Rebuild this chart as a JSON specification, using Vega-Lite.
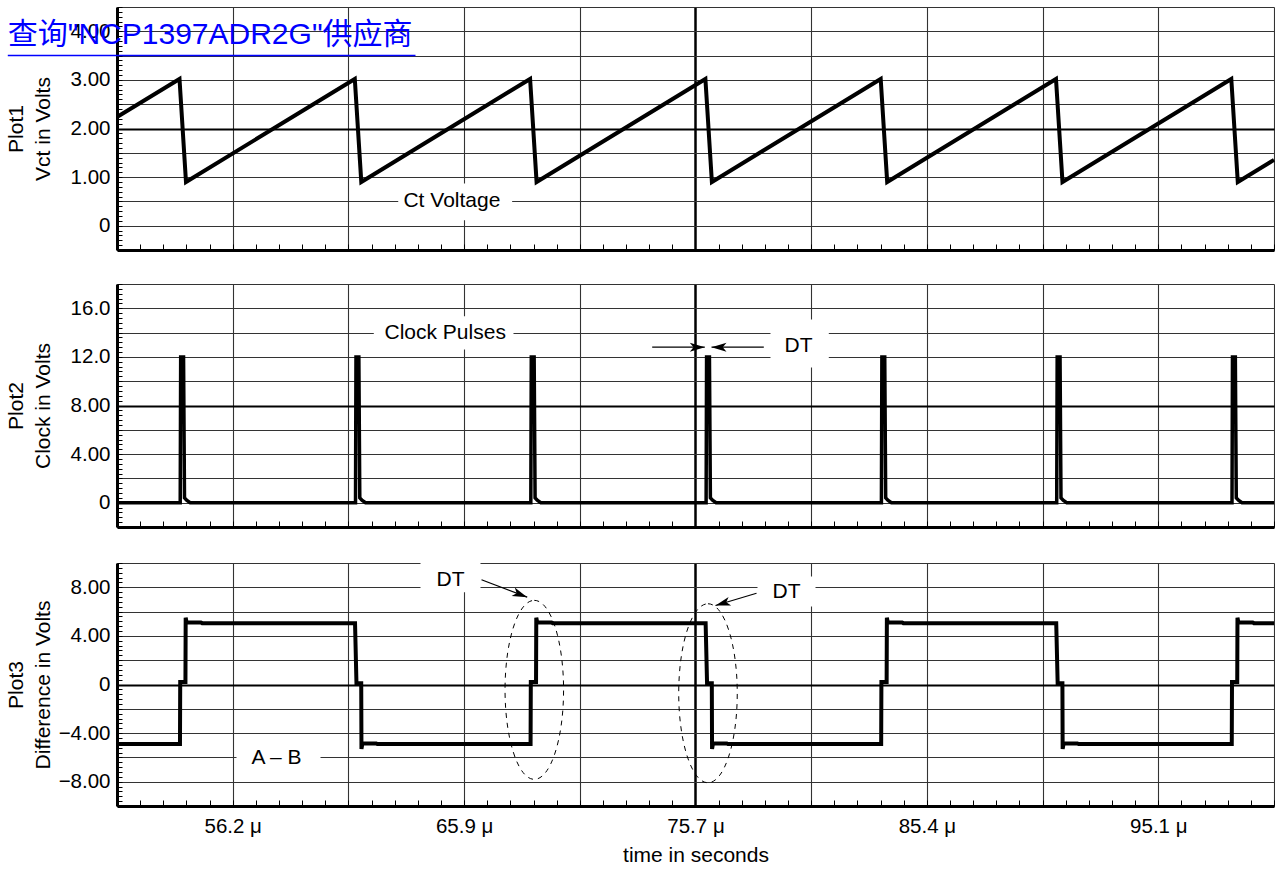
{
  "$schema": "https://vega.github.io/schema/vega-lite/v6.json",
  "background": "white",
  "padding": {"left": 4, "top": 6, "right": 0, "bottom": 0},
  "spacing": 32,
  "config": {
    "view": {"stroke": null},
    "font": "Liberation Sans",
    "axis": {"labelFont": "Liberation Sans", "titleFont": "Liberation Sans", "labelFontSize": 20.5, "titleFontSize": 21, "labelColor": "black", "titleColor": "black", "titleFontWeight": "normal", "labelOverlap": false, "labelFlush": false}
  },
  "datasets": {
    "ct": [{"t":51.335,"v":2.235},{"t":53.963,"v":3.02},{"t":54.236,"v":0.9},{"t":61.334,"v":3.02},{"t":61.607,"v":0.9},{"t":68.705,"v":3.02},{"t":68.978,"v":0.9},{"t":76.076,"v":3.02},{"t":76.349,"v":0.9},{"t":83.447,"v":3.02},{"t":83.72,"v":0.9},{"t":90.818,"v":3.02},{"t":91.091,"v":0.9},{"t":98.189,"v":3.02},{"t":98.462,"v":0.9},{"t":99.985,"v":1.355}],
    "clk": [{"t":51.335,"v":0},
      {"t":53.993,"v":0},{"t":54.013,"v":12},{"t":54.133,"v":12},{"t":54.173,"v":0.4},{"t":54.263,"v":0.2},{"t":54.413,"v":0},
      {"t":61.364,"v":0},{"t":61.384,"v":12},{"t":61.504,"v":12},{"t":61.544,"v":0.4},{"t":61.634,"v":0.2},{"t":61.784,"v":0},
      {"t":68.735,"v":0},{"t":68.755,"v":12},{"t":68.875,"v":12},{"t":68.915,"v":0.4},{"t":69.005,"v":0.2},{"t":69.155,"v":0},
      {"t":76.106,"v":0},{"t":76.126,"v":12},{"t":76.246,"v":12},{"t":76.286,"v":0.4},{"t":76.376,"v":0.2},{"t":76.526,"v":0},
      {"t":83.477,"v":0},{"t":83.497,"v":12},{"t":83.617,"v":12},{"t":83.657,"v":0.4},{"t":83.747,"v":0.2},{"t":83.897,"v":0},
      {"t":90.848,"v":0},{"t":90.868,"v":12},{"t":90.988,"v":12},{"t":91.028,"v":0.4},{"t":91.118,"v":0.2},{"t":91.268,"v":0},
      {"t":98.219,"v":0},{"t":98.239,"v":12},{"t":98.359,"v":12},{"t":98.399,"v":0.4},{"t":98.489,"v":0.2},{"t":98.639,"v":0},
      {"t":99.985,"v":0}],
    "diff": [{"t":51.335,"v":-4.9},
      {"t":53.983,"v":-4.9},{"t":53.993,"v":0.2},{"t":54.213,"v":0.2},{"t":54.223,"v":5.5},{"t":54.263,"v":5.1},{"t":54.863,"v":5.1},{"t":54.913,"v":5.05},
      {"t":61.344,"v":5.05},{"t":61.404,"v":0.1},{"t":61.604,"v":0.1},{"t":61.614,"v":-5.3},{"t":61.654,"v":-4.85},{"t":62.234,"v":-4.85},{"t":62.284,"v":-4.9},
      {"t":68.725,"v":-4.9},{"t":68.735,"v":0.2},{"t":68.955,"v":0.2},{"t":68.965,"v":5.5},{"t":69.005,"v":5.1},{"t":69.605,"v":5.1},{"t":69.655,"v":5.05},
      {"t":76.086,"v":5.05},{"t":76.146,"v":0.1},{"t":76.346,"v":0.1},{"t":76.356,"v":-5.3},{"t":76.396,"v":-4.85},{"t":76.976,"v":-4.85},{"t":77.026,"v":-4.9},
      {"t":83.467,"v":-4.9},{"t":83.477,"v":0.2},{"t":83.697,"v":0.2},{"t":83.707,"v":5.5},{"t":83.747,"v":5.1},{"t":84.347,"v":5.1},{"t":84.397,"v":5.05},
      {"t":90.828,"v":5.05},{"t":90.888,"v":0.1},{"t":91.088,"v":0.1},{"t":91.098,"v":-5.3},{"t":91.138,"v":-4.85},{"t":91.718,"v":-4.85},{"t":91.768,"v":-4.9},
      {"t":98.209,"v":-4.9},{"t":98.219,"v":0.2},{"t":98.439,"v":0.2},{"t":98.449,"v":5.5},{"t":98.489,"v":5.1},{"t":99.089,"v":5.1},{"t":99.139,"v":5.05},
      {"t":99.985,"v":5.05}],
    "notes": [
      {"panel":1,"text":"Ct Voltage","t":65.417,"v":0.5,"t1":63.16,"t2":67.95,"v1":0.11,"v2":0.87},
      {"panel":2,"text":"Clock Pulses","t":65.135,"v":13.95,"t1":62.133,"t2":68.007,"v1":12.61,"v2":15.35},
      {"panel":2,"text":"DT","t":79.99,"v":12.88,"t1":78.813,"t2":81.265,"v1":11.13,"v2":15.08},
      {"panel":3,"text":"DT","t":65.358,"v":8.62,"t1":64.097,"t2":66.619,"v1":7.6,"v2":10.2},
      {"panel":3,"text":"DT","t":79.486,"v":7.65,"t1":78.267,"t2":80.706,"v1":6.42,"v2":8.89},
      {"panel":3,"text":"A – B","t":58.042,"v":-6.09,"t1":56.36,"t2":59.892,"v1":-7.2,"v2":-5.3}],
    "arrows": [
      {"id":"a","tail_t":73.839,"tail_v":12.8,"tip_t":76.051,"tip_v":12.8},
      {"id":"b","tail_t":78.532,"tail_v":12.8,"tip_t":76.333,"tip_v":12.8},
      {"id":"c","tail_t":66.662,"tail_v":8.62,"tip_t":68.583,"tip_v":7.19},
      {"id":"d","tail_t":78.225,"tail_v":7.51,"tip_t":76.501,"tip_v":6.5}],
    "ellipses": [{"t":68.882,"v":-0.44},{"t":76.185,"v":-0.72}],
    "link": [{"text":"查询\"NCP1397ADR2G\"供应商","t":46.743,"v":3.743,"t2":63.886,"uv":3.502}]
  },
  "vconcat": [
    {
      "width": 1157, "height": 243,
      "resolve": {"axis": {"x": "independent", "y": "independent"}},
      "layer": [
        {"data": {"name": "notes"}, "transform": [{"filter": "datum.panel == 1"}],
         "mark": {"type": "rect", "color": "white"},
         "encoding": {
           "x": {"field": "t1", "type": "quantitative", "scale": {"domain": [51.335, 99.985], "nice": false, "zero": false},
                 "axis": {"orient": "bottom", "values": [51.335,52.308,53.281,54.254,55.227,56.2,57.173,58.146,59.119,60.092,61.065,62.038,63.011,63.984,64.957,65.93,66.903,67.876,68.849,69.822,70.795,71.768,72.741,73.714,74.687,75.66,76.633,77.606,78.579,79.552,80.525,81.498,82.471,83.444,84.417,85.39,86.363,87.336,88.309,89.282,90.255,91.228,92.201,93.174,94.147,95.12,96.093,97.066,98.039,99.012,99.985], "grid": false, "labels": false, "domain": false, "ticks": true, "tickSize": -6, "tickColor": "black", "tickWidth": 1, "title": null}},
           "x2": {"field": "t2"},
           "y": {"field": "v1", "type": "quantitative", "scale": {"domain": [-0.5, 4.5], "nice": false, "zero": false},
                 "axis": {"orient": "left", "values": [-0.5,-0.4,-0.3,-0.2,-0.1,0,0.1,0.2,0.3,0.4,0.5,0.6,0.7,0.8,0.9,1,1.1,1.2,1.3,1.4,1.5,1.6,1.7,1.8,1.9,2,2.1,2.2,2.3,2.4,2.5,2.6,2.7,2.8,2.9,3,3.1,3.2,3.3,3.4,3.5,3.6,3.7,3.8,3.9,4,4.1,4.2,4.3,4.4,4.5], "grid": false, "labels": false, "domain": false, "ticks": true, "tickSize": -5, "tickColor": "black", "tickWidth": 1, "title": null}},
           "y2": {"field": "v2"}
         }},
        {"data": {"name": "ct"},
         "mark": {"type": "line", "color": "black", "strokeWidth": 4},
         "encoding": {
           "x": {"field": "t", "type": "quantitative", "scale": {"domain": [51.335, 99.985], "nice": false, "zero": false},
                 "axis": {"orient": "bottom", "values": [56.2], "grid": false, "ticks": false, "labels": false, "domain": true, "domainColor": "black", "domainWidth": 3, "title": null}},
           "y": {"field": "v", "type": "quantitative", "scale": {"domain": [-0.5, 4.5], "nice": false, "zero": false},
                 "axis": {"orient": "left", "values": [0,1,2,3,4], "grid": false,
                          "ticks": false, "domain": true, "domainColor": "black", "domainWidth": 3, "labelPadding": 7,
                          "labelExpr": "datum.value == 0 ? '0' : format(datum.value, '.2f')",
                          "title": ["Plot1", "Vct in Volts"], "titleX": -91, "titleBaseline": "bottom", "titleLineHeight": 27}}
         }},
        {"data": {"name": "notes"}, "transform": [{"filter": "datum.panel == 1"}],
         "mark": {"type": "text", "font": "Liberation Sans", "fontSize": 21, "color": "black", "align": "center", "baseline": "middle"},
         "encoding": {
           "x": {"field": "t", "type": "quantitative", "scale": {"domain": [51.335, 99.985], "nice": false, "zero": false},
                 "axis": {"orient": "bottom", "values": [51.335,56.2,61.065,65.93,70.795,75.66,80.525,85.39,90.255,95.12,99.985], "grid": true,
                          "gridColor": {"condition": {"test": "datum.value > 75 && datum.value < 76", "value": "black"}, "value": "#333333"},
                          "gridWidth": {"condition": {"test": "datum.value > 75 && datum.value < 76", "value": 2.5}, "value": 1.1},
                          "ticks": false, "labels": false, "domain": false, "title": null}},
           "y": {"field": "v", "type": "quantitative", "scale": {"domain": [-0.5, 4.5], "nice": false, "zero": false},
                 "axis": {"orient": "left", "values": [-0.5,0,0.5,1,1.5,2,2.5,3,3.5,4,4.5], "grid": true,
                          "gridColor": {"condition": {"test": "datum.value == 2", "value": "black"}, "value": "#333333"},
                          "gridWidth": {"condition": {"test": "datum.value == 2", "value": 2.2}, "value": 1.1},
                          "ticks": false, "labels": false, "domain": false, "title": null}},
           "text": {"field": "text"}
         }},
        {"data": {"name": "link"},
         "mark": {"type": "rule", "color": "#0000ff", "strokeWidth": 1.5},
         "encoding": {
           "x": {"field": "t", "type": "quantitative", "scale": {"domain": [51.335, 99.985], "nice": false, "zero": false}, "axis": null},
           "x2": {"field": "t2"},
           "y": {"field": "uv", "type": "quantitative", "scale": {"domain": [-0.5, 4.5], "nice": false, "zero": false}, "axis": null}
         }},
        {"data": {"name": "link"},
         "mark": {"type": "text", "font": "Liberation Sans, Noto Sans CJK SC", "fontSize": 30, "color": "#0000ff", "align": "left", "baseline": "alphabetic"},
         "encoding": {
           "x": {"field": "t", "type": "quantitative", "scale": {"domain": [51.335, 99.985], "nice": false, "zero": false}, "axis": null},
           "y": {"field": "v", "type": "quantitative", "scale": {"domain": [-0.5, 4.5], "nice": false, "zero": false}, "axis": null},
           "text": {"field": "text"}
         }}
      ]
    },
    {
      "width": 1157, "height": 243,
      "resolve": {"axis": {"x": "independent", "y": "independent"}},
      "layer": [
        {"data": {"name": "notes"}, "transform": [{"filter": "datum.panel == 2"}],
         "mark": {"type": "rect", "color": "white"},
         "encoding": {
           "x": {"field": "t1", "type": "quantitative", "scale": {"domain": [51.335, 99.985], "nice": false, "zero": false},
                 "axis": {"orient": "bottom", "values": [51.335,52.308,53.281,54.254,55.227,56.2,57.173,58.146,59.119,60.092,61.065,62.038,63.011,63.984,64.957,65.93,66.903,67.876,68.849,69.822,70.795,71.768,72.741,73.714,74.687,75.66,76.633,77.606,78.579,79.552,80.525,81.498,82.471,83.444,84.417,85.39,86.363,87.336,88.309,89.282,90.255,91.228,92.201,93.174,94.147,95.12,96.093,97.066,98.039,99.012,99.985], "grid": false, "labels": false, "domain": false, "ticks": true, "tickSize": -6, "tickColor": "black", "tickWidth": 1, "title": null}},
           "x2": {"field": "t2"},
           "y": {"field": "v1", "type": "quantitative", "scale": {"domain": [-2, 18], "nice": false, "zero": false},
                 "axis": {"orient": "left", "values": [-2,-1.6,-1.2,-0.8,-0.4,0,0.4,0.8,1.2,1.6,2,2.4,2.8,3.2,3.6,4,4.4,4.8,5.2,5.6,6,6.4,6.8,7.2,7.6,8,8.4,8.8,9.2,9.6,10,10.4,10.8,11.2,11.6,12,12.4,12.8,13.2,13.6,14,14.4,14.8,15.2,15.6,16,16.4,16.8,17.2,17.6,18], "grid": false, "labels": false, "domain": false, "ticks": true, "tickSize": -5, "tickColor": "black", "tickWidth": 1, "title": null}},
           "y2": {"field": "v2"}
         }},
        {"data": {"name": "clk"},
         "mark": {"type": "line", "color": "black", "strokeWidth": 3.5},
         "encoding": {
           "x": {"field": "t", "type": "quantitative", "scale": {"domain": [51.335, 99.985], "nice": false, "zero": false},
                 "axis": {"orient": "bottom", "values": [56.2], "grid": false, "ticks": false, "labels": false, "domain": true, "domainColor": "black", "domainWidth": 3, "title": null}},
           "y": {"field": "v", "type": "quantitative", "scale": {"domain": [-2, 18], "nice": false, "zero": false},
                 "axis": {"orient": "left", "values": [0,4,8,12,16], "grid": false,
                          "ticks": false, "domain": true, "domainColor": "black", "domainWidth": 3, "labelPadding": 7,
                          "labelExpr": "datum.value == 0 ? '0' : (datum.value >= 10 ? format(datum.value, '.1f') : format(datum.value, '.2f'))",
                          "title": ["Plot2", "Clock in Volts"], "titleX": -91, "titleBaseline": "bottom", "titleLineHeight": 27}}
         }},
        {"data": {"name": "arrows"}, "transform": [{"filter": "datum.id == 'a' || datum.id == 'b'"}],
         "mark": {"type": "rule", "color": "black", "strokeWidth": 1.2},
         "encoding": {
           "x": {"field": "tail_t", "type": "quantitative", "scale": {"domain": [51.335, 99.985], "nice": false, "zero": false}, "axis": null},
           "x2": {"field": "tip_t"},
           "y": {"field": "tail_v", "type": "quantitative", "scale": {"domain": [-2, 18], "nice": false, "zero": false}, "axis": null},
           "y2": {"field": "tip_v"}
         }},
        {"data": {"name": "arrows"}, "transform": [{"filter": "datum.id == 'a'"}],
         "mark": {"type": "point", "shape": "M 0 0 L -1 -0.3 L -0.75 0 L -1 0.3 Z", "filled": true, "color": "black", "opacity": 1, "size": 900, "angle": 0},
         "encoding": {
           "x": {"field": "tip_t", "type": "quantitative", "scale": {"domain": [51.335, 99.985], "nice": false, "zero": false}, "axis": null},
           "y": {"field": "tip_v", "type": "quantitative", "scale": {"domain": [-2, 18], "nice": false, "zero": false}, "axis": null}
         }},
        {"data": {"name": "arrows"}, "transform": [{"filter": "datum.id == 'b'"}],
         "mark": {"type": "point", "shape": "M 0 0 L -1 -0.3 L -0.75 0 L -1 0.3 Z", "filled": true, "color": "black", "opacity": 1, "size": 900, "angle": 180},
         "encoding": {
           "x": {"field": "tip_t", "type": "quantitative", "scale": {"domain": [51.335, 99.985], "nice": false, "zero": false}, "axis": null},
           "y": {"field": "tip_v", "type": "quantitative", "scale": {"domain": [-2, 18], "nice": false, "zero": false}, "axis": null}
         }},
        {"data": {"name": "notes"}, "transform": [{"filter": "datum.panel == 2"}],
         "mark": {"type": "text", "font": "Liberation Sans", "fontSize": 21, "color": "black", "align": "center", "baseline": "middle"},
         "encoding": {
           "x": {"field": "t", "type": "quantitative", "scale": {"domain": [51.335, 99.985], "nice": false, "zero": false},
                 "axis": {"orient": "bottom", "values": [51.335,56.2,61.065,65.93,70.795,75.66,80.525,85.39,90.255,95.12,99.985], "grid": true,
                          "gridColor": {"condition": {"test": "datum.value > 75 && datum.value < 76", "value": "black"}, "value": "#333333"},
                          "gridWidth": {"condition": {"test": "datum.value > 75 && datum.value < 76", "value": 2.5}, "value": 1.1},
                          "ticks": false, "labels": false, "domain": false, "title": null}},
           "y": {"field": "v", "type": "quantitative", "scale": {"domain": [-2, 18], "nice": false, "zero": false},
                 "axis": {"orient": "left", "values": [-2,0,2,4,6,8,10,12,14,16,18], "grid": true,
                          "gridColor": {"condition": {"test": "datum.value == 8", "value": "black"}, "value": "#333333"},
                          "gridWidth": {"condition": {"test": "datum.value == 8", "value": 2.2}, "value": 1.1},
                          "ticks": false, "labels": false, "domain": false, "title": null}},
           "text": {"field": "text"}
         }}
      ]
    },
    {
      "width": 1157, "height": 243,
      "resolve": {"axis": {"x": "independent", "y": "independent"}},
      "layer": [
        {"data": {"name": "notes"}, "transform": [{"filter": "datum.panel == 3"}],
         "mark": {"type": "rect", "color": "white"},
         "encoding": {
           "x": {"field": "t1", "type": "quantitative", "scale": {"domain": [51.335, 99.985], "nice": false, "zero": false},
                 "axis": {"orient": "bottom", "values": [51.335,52.308,53.281,54.254,55.227,56.2,57.173,58.146,59.119,60.092,61.065,62.038,63.011,63.984,64.957,65.93,66.903,67.876,68.849,69.822,70.795,71.768,72.741,73.714,74.687,75.66,76.633,77.606,78.579,79.552,80.525,81.498,82.471,83.444,84.417,85.39,86.363,87.336,88.309,89.282,90.255,91.228,92.201,93.174,94.147,95.12,96.093,97.066,98.039,99.012,99.985], "grid": false, "labels": false, "domain": false, "ticks": true, "tickSize": -6, "tickColor": "black", "tickWidth": 1, "title": null}},
           "x2": {"field": "t2"},
           "y": {"field": "v1", "type": "quantitative", "scale": {"domain": [-10, 10], "nice": false, "zero": false},
                 "axis": {"orient": "left", "values": [-10,-9.6,-9.2,-8.8,-8.4,-8,-7.6,-7.2,-6.8,-6.4,-6,-5.6,-5.2,-4.8,-4.4,-4,-3.6,-3.2,-2.8,-2.4,-2,-1.6,-1.2,-0.8,-0.4,0,0.4,0.8,1.2,1.6,2,2.4,2.8,3.2,3.6,4,4.4,4.8,5.2,5.6,6,6.4,6.8,7.2,7.6,8,8.4,8.8,9.2,9.6,10], "grid": false, "labels": false, "domain": false, "ticks": true, "tickSize": -5, "tickColor": "black", "tickWidth": 1, "title": null}},
           "y2": {"field": "v2"}
         }},
        {"data": {"name": "diff"},
         "mark": {"type": "line", "color": "black", "strokeWidth": 4},
         "encoding": {
           "x": {"field": "t", "type": "quantitative", "scale": {"domain": [51.335, 99.985], "nice": false, "zero": false},
                 "axis": {"orient": "bottom", "values": [56.2,65.93,75.66,85.39,95.12], "grid": false,
                          "ticks": false, "labels": true, "domain": true, "domainColor": "black", "domainWidth": 3,
                          "labelPadding": 10,
                          "labelExpr": "format(datum.value, '.1f') + ' μ'",
                          "title": "time in seconds", "titlePadding": 8}},
           "y": {"field": "v", "type": "quantitative", "scale": {"domain": [-10, 10], "nice": false, "zero": false},
                 "axis": {"orient": "left", "values": [-8,-4,0,4,8], "grid": false,
                          "ticks": false, "domain": true, "domainColor": "black", "domainWidth": 3, "labelPadding": 7,
                          "labelExpr": "datum.value == 0 ? '0' : format(datum.value, '.2f')",
                          "title": ["Plot3", "Difference in Volts"], "titleX": -91, "titleBaseline": "bottom", "titleLineHeight": 27}}
         }},
        {"data": {"name": "ellipses"},
         "mark": {"type": "point", "shape": "M 0 -1 A 0.327 1 0 0 1 0.327 0 A 0.327 1 0 0 1 0 1 A 0.327 1 0 0 1 -0.327 0 A 0.327 1 0 0 1 0 -1 Z", "filled": false, "stroke": "black", "strokeWidth": 1, "strokeDash": [5, 5], "opacity": 1, "size": 32041},
         "encoding": {
           "x": {"field": "t", "type": "quantitative", "scale": {"domain": [51.335, 99.985], "nice": false, "zero": false}, "axis": null},
           "y": {"field": "v", "type": "quantitative", "scale": {"domain": [-10, 10], "nice": false, "zero": false}, "axis": null}
         }},
        {"data": {"name": "arrows"}, "transform": [{"filter": "datum.id == 'c' || datum.id == 'd'"}],
         "mark": {"type": "rule", "color": "black", "strokeWidth": 1.2},
         "encoding": {
           "x": {"field": "tail_t", "type": "quantitative", "scale": {"domain": [51.335, 99.985], "nice": false, "zero": false}, "axis": null},
           "x2": {"field": "tip_t"},
           "y": {"field": "tail_v", "type": "quantitative", "scale": {"domain": [-10, 10], "nice": false, "zero": false}, "axis": null},
           "y2": {"field": "tip_v"}
         }},
        {"data": {"name": "arrows"}, "transform": [{"filter": "datum.id == 'c'"}],
         "mark": {"type": "point", "shape": "M 0 0 L -1 -0.3 L -0.75 0 L -1 0.3 Z", "filled": true, "color": "black", "opacity": 1, "size": 900, "angle": 20.8},
         "encoding": {
           "x": {"field": "tip_t", "type": "quantitative", "scale": {"domain": [51.335, 99.985], "nice": false, "zero": false}, "axis": null},
           "y": {"field": "tip_v", "type": "quantitative", "scale": {"domain": [-10, 10], "nice": false, "zero": false}, "axis": null}
         }},
        {"data": {"name": "arrows"}, "transform": [{"filter": "datum.id == 'd'"}],
         "mark": {"type": "point", "shape": "M 0 0 L -1 -0.3 L -0.75 0 L -1 0.3 Z", "filled": true, "color": "black", "opacity": 1, "size": 900, "angle": 163.3},
         "encoding": {
           "x": {"field": "tip_t", "type": "quantitative", "scale": {"domain": [51.335, 99.985], "nice": false, "zero": false}, "axis": null},
           "y": {"field": "tip_v", "type": "quantitative", "scale": {"domain": [-10, 10], "nice": false, "zero": false}, "axis": null}
         }},
        {"data": {"name": "notes"}, "transform": [{"filter": "datum.panel == 3"}],
         "mark": {"type": "text", "font": "Liberation Sans", "fontSize": 21, "color": "black", "align": "center", "baseline": "middle"},
         "encoding": {
           "x": {"field": "t", "type": "quantitative", "scale": {"domain": [51.335, 99.985], "nice": false, "zero": false},
                 "axis": {"orient": "bottom", "values": [51.335,56.2,61.065,65.93,70.795,75.66,80.525,85.39,90.255,95.12,99.985], "grid": true,
                          "gridColor": {"condition": {"test": "datum.value > 75 && datum.value < 76", "value": "black"}, "value": "#333333"},
                          "gridWidth": {"condition": {"test": "datum.value > 75 && datum.value < 76", "value": 2.5}, "value": 1.1},
                          "ticks": false, "labels": false, "domain": false, "title": null}},
           "y": {"field": "v", "type": "quantitative", "scale": {"domain": [-10, 10], "nice": false, "zero": false},
                 "axis": {"orient": "left", "values": [-10,-8,-6,-4,-2,0,2,4,6,8,10], "grid": true,
                          "gridColor": {"condition": {"test": "datum.value == 0", "value": "black"}, "value": "#333333"},
                          "gridWidth": {"condition": {"test": "datum.value == 0", "value": 2.2}, "value": 1.1},
                          "ticks": false, "labels": false, "domain": false, "title": null}},
           "text": {"field": "text"}
         }}
      ]
    }
  ]
}
